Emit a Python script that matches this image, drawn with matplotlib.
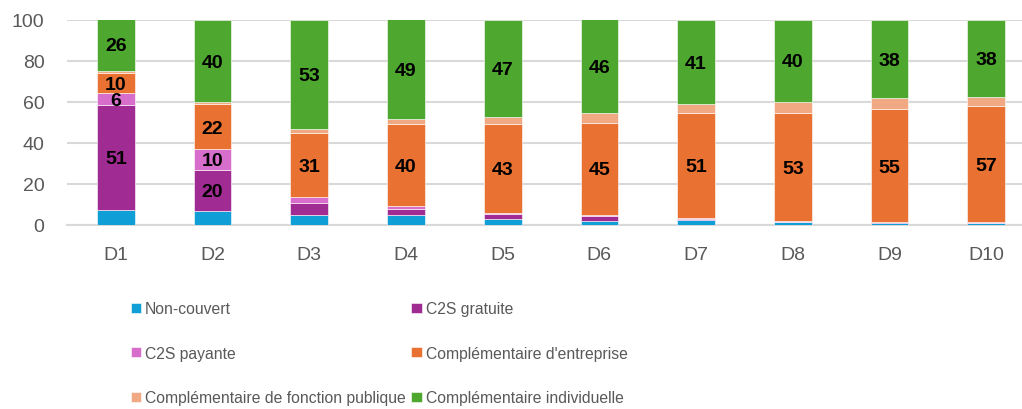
import matplotlib

matplotlib.use("Agg")

import matplotlib.pyplot as plt
import numpy as np

deciles = ["D1", "D2", "D3", "D4", "D5", "D6", "D7", "D8", "D9", "D10"]
series_names = [
    "Non-couvert",
    "C2S gratuite",
    "C2S payante",
    "Complémentaire d'entreprise",
    "Complémentaire de fonction publique",
    "Complémentaire individuelle",
]
non_couvert = [7.3, 6.8, 5.0, 4.7, 2.8, 2.1, 2.2, 1.2, 1.0, 1.0]
c2s_gratuite = [51, 20, 5.8, 3, 2.4, 2.1, 0.5, 0.3, 0.2, 0.1]
c2s_payante = [6, 10, 3, 1.3, 0.8, 0.7, 0.7, 0.3, 0.1, 0.1]
compl_entreprise = [10, 22, 31, 40, 43, 45, 51, 53, 55, 57]
compl_publique = [0.6, 1.0, 2.2, 2.6, 3.8, 4.5, 4.6, 5.4, 5.7, 4.0]
compl_individuelle = [26, 40, 53, 49, 47, 46, 41, 40, 38, 38]
colors = ["#0F9ED5", "#A02B93", "#D86ECC", "#E97132", "#F1A983", "#4EA72E"]
labelled = [False, True, True, True, False, True]

values = [non_couvert, c2s_gratuite, c2s_payante, compl_entreprise, compl_publique, compl_individuelle]

fig = plt.figure(figsize=(10.22, 4.10), dpi=100)
ax = fig.add_axes([0.066, 0.449, 0.934, 0.5])

x = np.arange(len(deciles))
bottom = np.zeros(len(deciles))
handles = []
for name, vals, color, show in zip(series_names, values, colors, labelled):
    vals = np.array(vals, dtype=float)
    bars = ax.bar(x, vals, 0.39, bottom=bottom, color=color, label=name,
                  edgecolor="white", linewidth=0.4, zorder=3)
    handles.append(bars)
    if show:
        for xi, b, v in zip(x, bottom, vals):
            if v >= 6:
                ax.text(xi, b + v / 2 - 0.6, f"{v:.0f}", ha="center", va="center",
                        fontsize=14, fontweight="bold", family="Liberation Sans",
                        color="black", zorder=4)
    bottom += vals

ax.set_xlim(-0.5, 9.37)
ax.set_ylim(0, 100)
ax.set_yticks(np.arange(0, 101, 20))
ax.set_xticks(x)
ax.set_xticklabels(deciles)
ax.grid(axis="y", color="#D9D9D9", linewidth=1.5, zorder=0)
for side in ["top", "right", "left"]:
    ax.spines[side].set_visible(False)
ax.spines["bottom"].set_color("#D9D9D9")
ax.spines["bottom"].set_linewidth(1.5)
ax.tick_params(axis="both", length=0, labelsize=14, labelcolor="#595959")
ax.tick_params(axis="y", pad=16.5)
ax.tick_params(axis="x", pad=15)
for lbl in ax.get_xticklabels() + ax.get_yticklabels():
    lbl.set_family("Liberation Sans")

order = [0, 2, 4, 1, 3, 5]
leg = fig.legend([handles[i] for i in order], [series_names[i] for i in order],
                 loc="upper left", bbox_to_anchor=(0.122, 0.278), ncol=2, frameon=False,
                 handlelength=0.64, handleheight=0.64, handletextpad=0.27,
                 labelspacing=1.88, columnspacing=0.35, borderaxespad=0,
                 prop={"family": "Liberation Sans", "size": 11.3})
for t in leg.get_texts():
    t.set_color("#595959")

fig.savefig("out.png", dpi=100)
